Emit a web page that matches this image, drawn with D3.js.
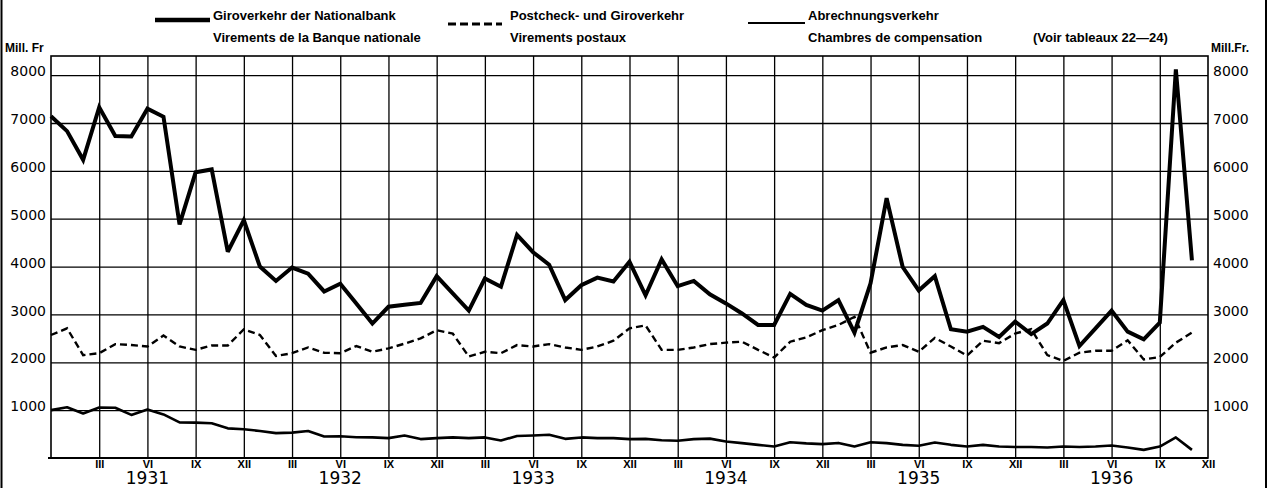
<!DOCTYPE html>
<html lang="de">
<head>
<meta charset="UTF-8">
<title>Giroverkehr</title>
<script src="https://d3js.org/d3.v7.min.js"></script>
<style>
  body { margin: 0; background: #fff; }
  svg { display: block; background: #fff; }
  .legend text { font-family: "Liberation Sans", Arial, sans-serif; font-weight: bold; font-size: 13px; }
  .ylab text { font-family: "DejaVu Sans", sans-serif; font-size: 14px; }
  .unit { font-family: "Liberation Sans", Arial, sans-serif; font-size: 12px; font-weight: bold; }
  .month text { font-family: "Liberation Sans", Arial, sans-serif; font-size: 11px; font-weight: bold; }
  .year { font-family: "DejaVu Sans", sans-serif; font-size: 17px; }
</style>
</head>
<body>
<svg width="1269" height="488"></svg>
<script>
// Monatswerte in Mill. Fr., 72 Monate (Beginn 1931)
var giro = [
  7140, 6830, 6230, 7330, 6730, 6720, 7300, 7130, 4880, 5970, 6030, 4310,
  4970, 4000, 3700, 3980, 3850, 3480, 3640, 3230, 2810, 3160, 3200, 3240,
  3800, 3440, 3080, 3750, 3580, 4660, 4300, 4040, 3300, 3610, 3770, 3690,
  4100, 3400, 4150, 3590, 3700, 3420, 3230, 3020, 2780, 2780, 3430, 3200,
  3080, 3300, 2620, 3650, 5430, 3990, 3500, 3800, 2690, 2640, 2740, 2530,
  2850, 2590, 2810, 3300, 2340, 2710, 3080, 2640, 2480, 2830, 8120, 4130
];
var postcheck = [
  2570, 2710, 2150, 2190, 2380, 2360, 2330, 2560, 2330, 2260, 2350, 2350,
  2690, 2570, 2130, 2190, 2310, 2200, 2190, 2340, 2220, 2290, 2390, 2500,
  2670, 2600, 2120, 2220, 2190, 2360, 2330, 2380, 2310, 2260, 2330, 2450,
  2710, 2770, 2260, 2260, 2310, 2380, 2410, 2430, 2260, 2100, 2430, 2520,
  2670, 2780, 2950, 2200, 2310, 2360, 2220, 2510, 2330, 2140, 2450, 2400,
  2600, 2690, 2150, 2030, 2200, 2240, 2240, 2460, 2060, 2110, 2410, 2620
];
var abrechnung = [
  1000, 1060, 930, 1055, 1050, 900, 1015, 910, 745, 740, 725, 620,
  600, 565, 520, 530, 565, 450, 455, 435, 430, 415, 470, 395,
  415, 430, 415, 430, 365, 460, 470, 485, 400, 430, 415, 415,
  395, 400, 370, 360, 395, 405, 345, 310, 275, 240, 330, 305,
  290, 315, 240, 330, 310, 275, 255, 325, 275, 240, 275, 240,
  230, 230, 220, 240, 230, 240, 260, 220, 170, 240, 430, 170
];
var years = [1931, 1932, 1933, 1934, 1935, 1936];
var monthLabels = ["III", "VI", "IX", "XII"];
var yTicks = [1000, 2000, 3000, 4000, 5000, 6000, 7000, 8000];

var margin = {top: 56, left: 51, right: 61, bottom: 30};
var W = 1269, H = 488;
var width = W - margin.left - margin.right;
var height = H - margin.top - margin.bottom;

var svg = d3.select("svg");

// Monatsindex -> x
var x = d3.scaleLinear().domain([0, years.length * 12]).range([margin.left, margin.left + width]);
var y = d3.scaleLinear().domain([0, 8400]).range([margin.top + height, margin.top]);

// Rahmen links/rechts
svg.append("line").attr("x1", 1.5).attr("x2", 1.5).attr("y1", 0).attr("y2", H)
  .attr("stroke", "#000").attr("stroke-width", 2);
svg.append("line").attr("x1", W - 3).attr("x2", W - 3).attr("y1", 0).attr("y2", H)
  .attr("stroke", "#000").attr("stroke-width", 2);

// horizontale Gitterlinien
svg.append("g")
  .attr("transform", "translate(" + margin.left + ",0)")
  .call(d3.axisLeft(y).tickValues(yTicks).tickSize(-width).tickFormat(""))
  .call(g => g.select(".domain").remove())
  .selectAll("line").attr("stroke", "#000").attr("stroke-width", 1.3);

// vertikale Gitterlinien alle 3 Monate
var quarterTicks = d3.range(3, years.length * 12, 3);
svg.append("g")
  .attr("transform", "translate(0," + (margin.top + height) + ")")
  .call(d3.axisBottom(x).tickValues(quarterTicks).tickSize(-height).tickFormat(""))
  .call(g => g.select(".domain").remove())
  .selectAll("line").attr("stroke", "#000").attr("stroke-width", 1.3);

// Rahmen des Diagramms
svg.append("rect")
  .attr("x", margin.left).attr("y", margin.top)
  .attr("width", width).attr("height", height)
  .attr("fill", "none").attr("stroke", "#000").attr("stroke-width", 1.6);
svg.append("line")
  .attr("x1", margin.left - 3).attr("x2", margin.left + width)
  .attr("y1", margin.top + height).attr("y2", margin.top + height)
  .attr("stroke", "#000").attr("stroke-width", 2.2);

// Achsenbeschriftungen
svg.append("g").attr("class", "ylab")
  .attr("transform", "translate(" + margin.left + ",0)")
  .call(d3.axisLeft(y).tickValues(yTicks).tickSize(0).tickPadding(5).tickFormat(d3.format("d")))
  .call(g => g.select(".domain").remove())
  .selectAll("text").attr("dy", "0.05em").attr("fill", "#000");
svg.append("g").attr("class", "ylab")
  .attr("transform", "translate(" + (margin.left + width) + ",0)")
  .call(d3.axisRight(y).tickValues(yTicks).tickSize(0).tickPadding(5).tickFormat(d3.format("d")))
  .call(g => g.select(".domain").remove())
  .selectAll("text").attr("dy", "0.05em").attr("fill", "#000");

svg.append("text").attr("class", "unit").attr("x", 5).attr("y", 52).text("Mill. Fr");
svg.append("text").attr("class", "unit").attr("x", 1211).attr("y", 52).text("Mill.Fr.");

// Monate und Jahre
svg.append("g").attr("class", "month")
  .attr("transform", "translate(0," + (margin.top + height) + ")")
  .call(d3.axisBottom(x).tickValues(d3.range(3, years.length * 12 + 1, 3)).tickSize(0).tickPadding(2)
    .tickFormat(d => monthLabels[(d / 3 - 1) % 4]))
  .call(g => g.select(".domain").remove())
  .selectAll("text").attr("fill", "#000");

svg.selectAll(".year").data(years).enter().append("text")
  .attr("class", "year")
  .attr("x", (d, i) => x(i * 12 + 6))
  .attr("y", 484)
  .attr("text-anchor", "middle")
  .text(d => d);

// Kurven
var line = d3.line().x((d, i) => x(i)).y(d => y(d));

svg.append("path").datum(abrechnung)
  .attr("d", line).attr("fill", "none").attr("stroke", "#000")
  .attr("stroke-width", 2.6).attr("stroke-linejoin", "round");
svg.append("path").datum(postcheck)
  .attr("d", line).attr("fill", "none").attr("stroke", "#000")
  .attr("stroke-width", 2.4).attr("stroke-dasharray", "7,4");
svg.append("path").datum(giro)
  .attr("d", line).attr("fill", "none").attr("stroke", "#000")
  .attr("stroke-width", 4).attr("stroke-linejoin", "miter").attr("stroke-miterlimit", 3);

// Legende
var legend = svg.append("g").attr("class", "legend");
legend.append("line").attr("x1", 155).attr("x2", 210).attr("y1", 20).attr("y2", 20)
  .attr("stroke", "#000").attr("stroke-width", 4.5);
legend.append("text").attr("x", 213).attr("y", 20).text("Giroverkehr der Nationalbank");
legend.append("text").attr("x", 213).attr("y", 42).text("Virements de la Banque nationale");

legend.append("line").attr("x1", 448).attr("x2", 502).attr("y1", 24).attr("y2", 24)
  .attr("stroke", "#000").attr("stroke-width", 3).attr("stroke-dasharray", "8,4");
legend.append("text").attr("x", 510).attr("y", 20).text("Postcheck- und Giroverkehr");
legend.append("text").attr("x", 510).attr("y", 42).text("Virements postaux");

legend.append("line").attr("x1", 748).attr("x2", 805).attr("y1", 23).attr("y2", 23)
  .attr("stroke", "#000").attr("stroke-width", 2);
legend.append("text").attr("x", 808).attr("y", 20).text("Abrechnungsverkehr");
legend.append("text").attr("x", 808).attr("y", 42).text("Chambres de compensation");
legend.append("text").attr("x", 1033).attr("y", 42).text("(Voir tableaux 22\u201424)");
</script>
</body>
</html>
